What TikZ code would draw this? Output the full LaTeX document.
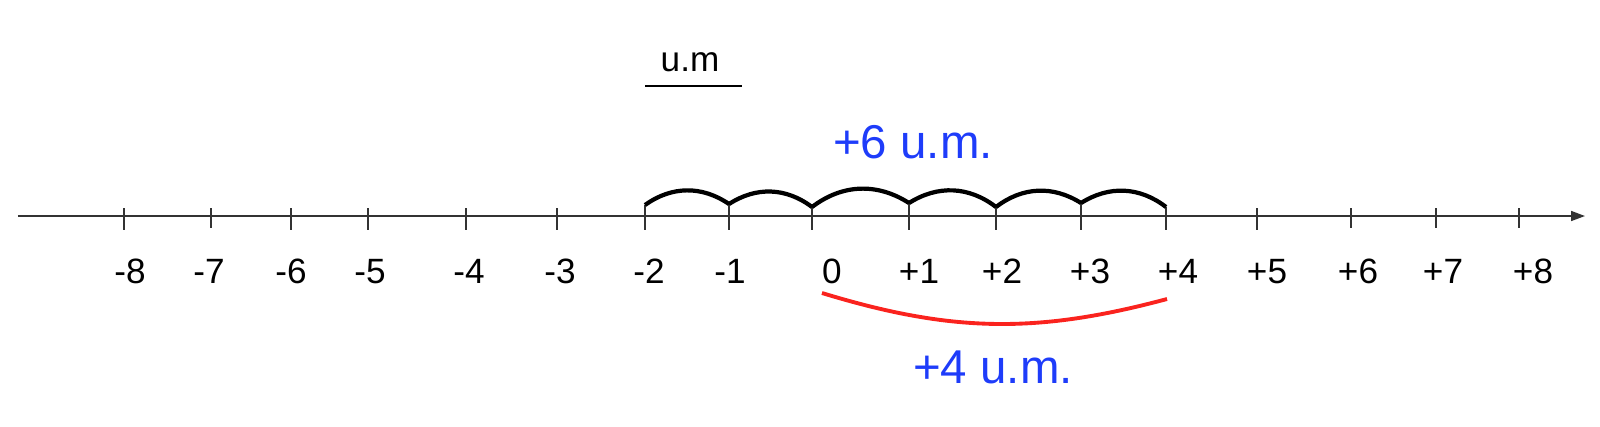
\documentclass[tikz,border=0pt]{standalone}
\usepackage{fontspec}
\setmainfont{Liberation Sans}
\usepackage{tikz}
\usetikzlibrary{arrows.meta}
\definecolor{umblue}{RGB}{30,60,250}
\definecolor{umred}{RGB}{250,35,30}

\begin{document}
\begin{tikzpicture}[
num/.style={font=\fontsize{10}{12}\selectfont, anchor=base, inner sep=0pt},
total/.style={font=\fontsize{13.5}{16}\selectfont, text=umblue, anchor=base, inner sep=0pt},
tickmark/.style={draw=black!80, line width=0.45pt},
hop/.style={line width=1.2pt, bend left=35},
sweep/.style={draw=umred, line width=1.1pt, bend right=16}
]
\useasboundingbox (0,0) rectangle (16,4.26);

% Axe
\coordinate (start) at (0.18,2.10);
\coordinate (end) at (15.85,2.10);
\draw[black!80, line width=0.45pt, -{Triangle[length=0.14cm, width=0.10cm]}] (start)--(end);

% Graduations
\coordinate (tm8) at (1.24,2.18);
\coordinate (tm7) at (2.11,2.18);
\coordinate (tm6) at (2.91,2.18);
\coordinate (tm5) at (3.68,2.18);
\coordinate (tm4) at (4.66,2.18);
\coordinate (tm3) at (5.57,2.18);
\coordinate (tm2) at (6.45,2.21);
\coordinate (tm1) at (7.29,2.22);
\coordinate (t0) at (8.12,2.19);
\coordinate (tp1) at (9.09,2.23);
\coordinate (tp2) at (9.96,2.19);
\coordinate (tp3) at (10.81,2.23);
\coordinate (tp4) at (11.66,2.19);
\coordinate (tp5) at (12.57,2.18);
\coordinate (tp6) at (13.51,2.18);
\coordinate (tp7) at (14.36,2.18);
\coordinate (tp8) at (15.19,2.18);

\draw[tickmark] (tm8)--(1.24,1.96);
\draw[tickmark] (tm7)--(2.11,1.98);
\draw[tickmark] (tm6)--(2.91,1.96);
\draw[tickmark] (tm5)--(3.68,1.96);
\draw[tickmark] (tm4)--(4.66,1.96);
\draw[tickmark] (tm3)--(5.57,1.96);
\draw[tickmark] (tm2)--(6.45,1.96);
\draw[tickmark] (tm1)--(7.29,1.96);
\draw[tickmark] (t0)--(8.12,1.96);
\draw[tickmark] (tp1)--(9.09,1.96);
\draw[tickmark] (tp2)--(9.96,1.96);
\draw[tickmark] (tp3)--(10.81,1.96);
\draw[tickmark] (tp4)--(11.66,1.96);
\draw[tickmark] (tp5)--(12.57,1.96);
\draw[tickmark] (tp6)--(13.51,1.98);
\draw[tickmark] (tp7)--(14.36,1.98);
\draw[tickmark] (tp8)--(15.19,1.98);

% Nombres
\node[num] (lm8) at (1.30,1.43) {-8};
\node[num] (lm7) at (2.09,1.43) {-7};
\node[num] (lm6) at (2.91,1.43) {-6};
\node[num] (lm5) at (3.70,1.43) {-5};
\node[num] (lm4) at (4.69,1.43) {-4};
\node[num] (lm3) at (5.60,1.43) {-3};
\node[num] (lm2) at (6.49,1.43) {-2};
\node[num] (lm1) at (7.30,1.43) {-1};
\node[num] (l0) at (8.32,1.43) {0};
\node[num] (lp1) at (9.19,1.43) {+1};
\node[num] (lp2) at (10.02,1.43) {+2};
\node[num] (lp3) at (10.90,1.43) {+3};
\node[num] (lp4) at (11.78,1.43) {+4};
\node[num] (lp5) at (12.67,1.43) {+5};
\node[num] (lp6) at (13.58,1.43) {+6};
\node[num] (lp7) at (14.43,1.43) {+7};
\node[num] (lp8) at (15.33,1.43) {+8};

% Unite
\node[num] (unit) at (6.90,3.545) {u.m};
\coordinate (ua) at (6.45,3.40);
\coordinate (ub) at (7.42,3.40);
\draw[line width=0.45pt] (ua)--(ub);

% Sauts
\draw[hop] (tm2) to (tm1);
\draw[hop] (tm1) to (t0);
\draw[hop] (t0) to (tp1);
\draw[hop] (tp1) to (tp2);
\draw[hop] (tp2) to (tp3);
\draw[hop] (tp3) to (tp4);
\node[total] (six) at (9.13,2.68) {+6 u.m.};

% Distance
\coordinate (r0) at (8.22,1.33);
\coordinate (r4) at (11.67,1.27);
\draw[sweep] (r0) to (r4);
\node[total] (four) at (9.93,0.43) {+4 u.m.};

\end{tikzpicture}
\end{document}
